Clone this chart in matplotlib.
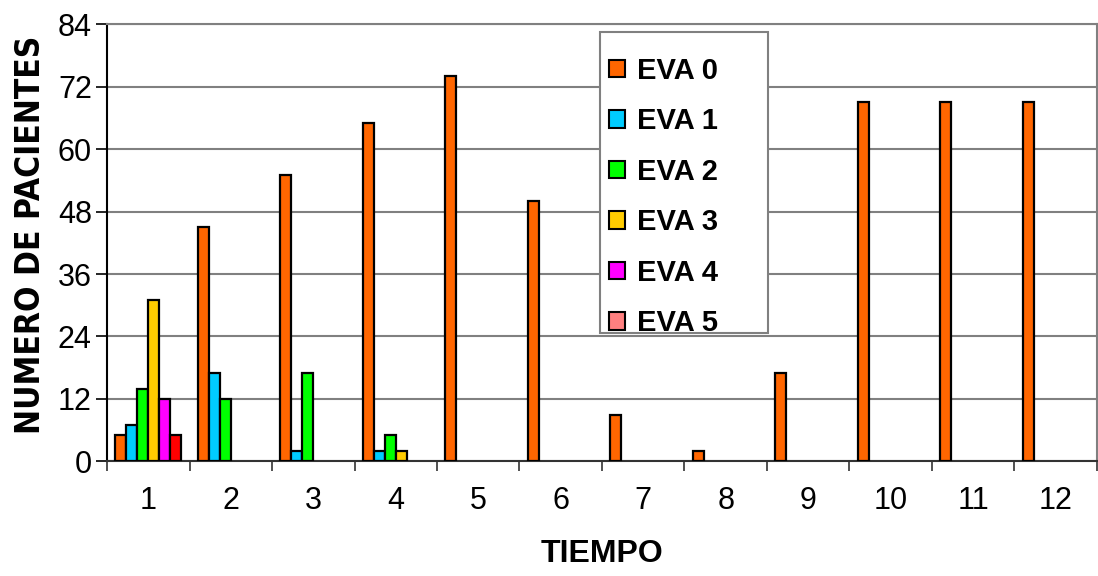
import matplotlib
matplotlib.use("Agg")
import matplotlib.pyplot as plt
import matplotlib.patches as mpatches
from matplotlib import font_manager
import numpy as np

categories = ["1", "2", "3", "4", "5", "6", "7", "8", "9", "10", "11", "12"]
eva0 = [5, 45, 55, 65, 74, 50, 9, 2, 17, 69, 69, 69]
eva1 = [7, 17, 2, 2, 0, 0, 0, 0, 0, 0, 0, 0]
eva2 = [14, 12, 17, 5, 0, 0, 0, 0, 0, 0, 0, 0]
eva3 = [31, 0, 0, 2, 0, 0, 0, 0, 0, 0, 0, 0]
eva4 = [12, 0, 0, 0, 0, 0, 0, 0, 0, 0, 0, 0]
eva5 = [5, 0, 0, 0, 0, 0, 0, 0, 0, 0, 0, 0]
series_names = ["EVA 0", "EVA 1", "EVA 2", "EVA 3", "EVA 4", "EVA 5"]
series = [eva0, eva1, eva2, eva3, eva4, eva5]
bar_colors = ["#FF6600", "#00CCFF", "#00FF00", "#FFCC00", "#FF00FF", "#FF0000"]
legend_colors = ["#FF6600", "#00CCFF", "#00FF00", "#FFCC00", "#FF00FF", "#FF8080"]
yticks = [0, 12, 24, 36, 48, 60, 72, 84]

plt.rcParams['font.family'] = ['Liberation Sans', 'DejaVu Sans']

fig = plt.figure(figsize=(10.98, 5.76), dpi=100)
ax = fig.add_axes([0.0975, 0.1988, 0.9015, 0.7595])

n = len(series)
w = 1.0 / 7.5
x = np.arange(1, len(categories) + 1)
for j, (vals, col) in enumerate(zip(series, bar_colors)):
    vals = np.array(vals, dtype=float)
    mask = vals > 0
    ax.bar(x[mask] + (j - (n - 1) / 2) * w, vals[mask], width=w, color=col,
           edgecolor="black", linewidth=1.6, zorder=3)

ax.set_xlim(0.5, len(categories) + 0.5)
ax.set_ylim(0, 84)
ax.set_yticks(yticks)
ax.set_yticklabels([str(v) for v in yticks], fontsize=22)
ax.yaxis.grid(True, color="#808080", linewidth=1.5, zorder=0)
ax.set_axisbelow(True)

ax.set_xticks(np.arange(0.5, len(categories) + 1, 1.0))
ax.set_xticklabels([])
ax.set_xticks(x, minor=True)
ax.set_xticklabels(categories, minor=True, fontsize=22)
ax.tick_params(axis="x", which="major", direction="out", length=7, width=1.2, color="#333333")
ax.tick_params(axis="x", which="minor", length=0, pad=18)
ax.tick_params(axis="y", direction="out", length=8, width=1.2, pad=3)

for s in ["top", "right"]:
    ax.spines[s].set_color("#808080")
    ax.spines[s].set_linewidth(1.5)
ax.spines["left"].set_color("black")
ax.spines["left"].set_linewidth(1.5)
ax.spines["bottom"].set_color("#333333")
ax.spines["bottom"].set_linewidth(1.5)

ax.set_xlabel("TIEMPO", fontsize=23, fontweight="bold", labelpad=16)

# y label: blocky condensed look
cond_ok = False
try:
    fp = font_manager.FontProperties(family="DejaVu Sans", stretch="condensed", weight="bold")
    fpath = font_manager.findfont(fp, fallback_to_default=False)
    cond_ok = "ondensed" in fpath
except Exception:
    cond_ok = False
if cond_ok:
    fig.text(0.028, 0.592, "NUMERO DE PACIENTES", rotation=90, ha="center", va="center",
             fontsize=24, fontweight="bold", family="DejaVu Sans", fontstretch="condensed")
else:
    fig.text(0.028, 0.592, "NUMERO DE PACIENTES", rotation=90, ha="center", va="center",
             fontsize=21.5, fontweight="bold", family="DejaVu Sans")

box = mpatches.Rectangle((0.498, 0.2937), 0.1697, 0.688, transform=ax.transAxes,
                         facecolor="white", edgecolor="#808080", linewidth=1.5, zorder=4)
ax.add_patch(box)
handles = [mpatches.Patch(facecolor=c, edgecolor="black", linewidth=1.5) for c in legend_colors]
leg = ax.legend(handles, series_names, loc="upper left", bbox_to_anchor=(0.507, 0.925),
                prop={"weight": "bold", "size": 21}, frameon=False,
                handlelength=0.55, handleheight=0.55, handletextpad=0.4,
                labelspacing=0.77, borderpad=0.0, borderaxespad=0.0)
leg.set_zorder(6)

fig.savefig("out.png", dpi=100)
